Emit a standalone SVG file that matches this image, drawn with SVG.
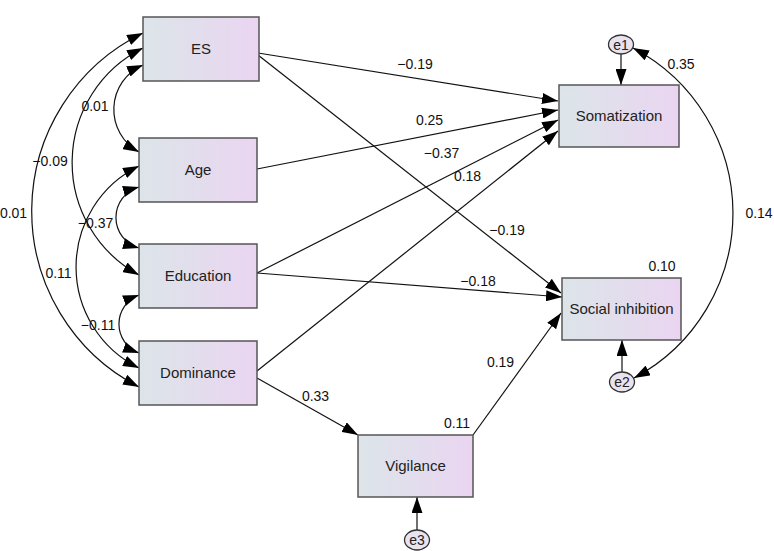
<svg xmlns="http://www.w3.org/2000/svg" width="774" height="551" viewBox="0 0 774 551">
<defs>
<linearGradient id="bx" x1="0" y1="0" x2="1" y2="0">
<stop offset="0" stop-color="#dce5e9"/>
<stop offset="1" stop-color="#ead5f1"/>
</linearGradient>
<marker id="ah" viewBox="0 0 16 11" refX="16" refY="5.5" markerWidth="16" markerHeight="11" markerUnits="userSpaceOnUse" orient="auto-start-reverse">
<path d="M0,0 L16,5.5 L0,11 z" fill="#000"/>
</marker>
</defs>
<style>
.box{fill:url(#bx);stroke:#555;stroke-width:1.5}
.err{fill:#e9e2ef;stroke:#333;stroke-width:1.3}
.lbl{font-family:"Liberation Sans",Arial,sans-serif;font-size:15px;fill:#222;text-anchor:middle}
.el{font-family:"Liberation Sans",Arial,sans-serif;font-size:14px;fill:#222;text-anchor:middle}
.num{font-family:"Liberation Sans",Arial,sans-serif;font-size:14px;fill:#111;text-anchor:middle}
.c{fill:none;stroke:#111;stroke-width:1.2}
.one{marker-end:url(#ah)}
.two{marker-start:url(#ah);marker-end:url(#ah)}
</style>
<rect width="774" height="551" fill="#fff"/>
<g id="connectors">
<path class="c one" d="M258,53 L558,101"/>
<path class="c one" d="M257,169 L558,110"/>
<path class="c one" d="M257,273 L558,120"/>
<path class="c one" d="M257,371 L558,131"/>
<path class="c one" d="M258,55 L561,293"/>
<path class="c one" d="M257,273 L562,297"/>
<path class="c one" d="M473,435 L561,313"/>
<path class="c one" d="M257,378 L358,435"/>
<path class="c one" d="M621,54 L621,85"/>
<path class="c one" d="M622,372 L622,340"/>
<path class="c one" d="M417,530 L417,497"/>
<path class="c two" d="M143,65 A48.5,48.5 0 0 0 139,152"/>
<path class="c two" d="M143,48 A128,128 0 0 0 139,275"/>
<path class="c two" d="M143,33 A198,198 0 0 0 139,387"/>
<path class="c two" d="M139,187 A31.7,31.7 0 0 0 139,248"/>
<path class="c two" d="M139,166 A112.5,112.5 0 0 0 139,368"/>
<path class="c two" d="M139,295 A31,31 0 0 0 139,353"/>
<path class="c two" d="M633,48 A186.6,186.6 0 0 1 634,378"/>
</g>
<g id="labels">
<text class="num" x="415" y="69">−0.19</text>
<text class="num" x="429.5" y="125">0.25</text>
<text class="num" x="441.5" y="158">−0.37</text>
<text class="num" x="467.5" y="181">0.18</text>
<text class="num" x="507" y="235">−0.19</text>
<text class="num" x="478" y="286">−0.18</text>
<text class="num" x="500.5" y="367">0.19</text>
<text class="num" x="315.5" y="401">0.33</text>
<text class="num" x="457" y="428">0.11</text>
<text class="num" x="662" y="271">0.10</text>
<text class="num" x="681" y="69">0.35</text>
<text class="num" x="759" y="218">0.14</text>
<text class="num" x="95" y="111">0.01</text>
<text class="num" x="50" y="166">−0.09</text>
<text class="num" x="13.5" y="218">0.01</text>
<text class="num" x="95.5" y="228">−0.37</text>
<text class="num" x="58.5" y="278">0.11</text>
<text class="num" x="98" y="330">−0.11</text>
</g>
<g id="ES"><rect class="box" x="143" y="17" width="116" height="64"/><text class="lbl" x="201" y="54">ES</text></g>
<g id="Age"><rect class="box" x="139" y="138" width="118" height="64"/><text class="lbl" x="198" y="175">Age</text></g>
<g id="Education"><rect class="box" x="139" y="244" width="118" height="64"/><text class="lbl" x="198" y="281">Education</text></g>
<g id="Dominance"><rect class="box" x="139" y="341" width="118" height="64"/><text class="lbl" x="198" y="378">Dominance</text></g>
<g id="Somatization"><rect class="box" x="559" y="85" width="120" height="62"/><text class="lbl" x="619" y="121">Somatization</text></g>
<g id="SocialInhibition"><rect class="box" x="562" y="278" width="119" height="62"/><text class="lbl" x="621.5" y="314">Social inhibition</text></g>
<g id="Vigilance"><rect class="box" x="358" y="435" width="115" height="62"/><text class="lbl" x="415.5" y="471">Vigilance</text></g>
<g id="e1"><ellipse class="err" cx="621" cy="44.5" rx="12.5" ry="9.5"/><text class="el" x="621" y="49.5">e1</text></g>
<g id="e2"><ellipse class="err" cx="622" cy="382" rx="12.5" ry="10"/><text class="el" x="622" y="387">e2</text></g>
<g id="e3"><ellipse class="err" cx="417" cy="540" rx="12.5" ry="10"/><text class="el" x="417" y="545">e3</text></g>
</svg>
